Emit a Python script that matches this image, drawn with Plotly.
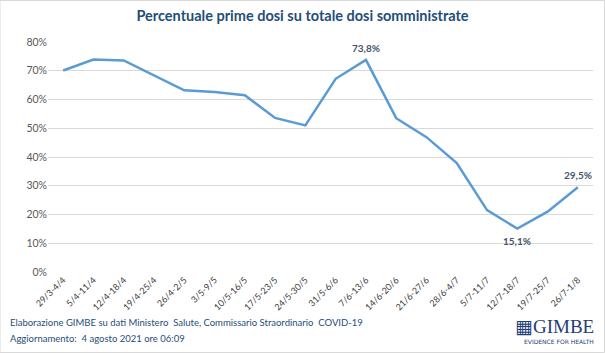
import plotly.graph_objects as go

categories = ["29/3-4/4", "5/4-11/4", "12/4-18/4", "19/4-25/4", "26/4-2/5", "3/5-9/5",
              "10/5-16/5", "17/5-23/5", "24/5-30/5", "31/5-6/6", "7/6-13/6", "14/6-20/6",
              "21/6-27/6", "28/6-4/7", "5/7-11/7", "12/7-18/7", "19/7-25/7", "26/7-1/8"]
values = [70.1, 73.9, 73.6, 68.4, 63.2, 62.6, 61.5, 53.6, 51.0, 67.2, 73.8, 53.5,
          46.9, 37.9, 21.5, 15.1, 21.0, 29.5]
labelled = {"7/6-13/6": ("73,8%", 12), "12/7-18/7": ("15,1%", -12), "26/7-1/8": ("29,5%", 12)}
yticks = [0, 10, 20, 30, 40, 50, 60, 70, 80]
ytick_text = ["0%", "10%", "20%", "30%", "40%", "50%", "60%", "70%", "80%"]

fig = go.Figure()
fig.add_trace(go.Scatter(x=categories, y=values, mode="lines",
                         line=dict(color="#5B9BD5", width=2.5), hoverinfo="skip"))

for cat, (txt, dy) in labelled.items():
    v = values[categories.index(cat)]
    fig.add_annotation(x=cat, y=v, text="<b>" + txt + "</b>", showarrow=False,
                       yshift=dy, font=dict(family="Lato, Open Sans", size=10, color="#44546A"))

fig.update_layout(
    width=605, height=353,
    margin=dict(l=48, r=12, t=42, b=81),
    paper_bgcolor="white", plot_bgcolor="white",
    showlegend=False,
    title=dict(text="<b>Percentuale prime dosi su totale dosi somministrate</b>",
               x=0.5, xanchor="center", y=0.955, yanchor="middle",
               font=dict(family="Lato, Open Sans", size=14.5, color="#1F4E79")),
    xaxis=dict(type="category", range=[-0.5, len(categories) - 0.5], tickangle=-45,
               showgrid=False, showline=False, ticks="",
               tickfont=dict(family="Lato, Open Sans", size=9, color="#404040")),
    yaxis=dict(range=[0, 80], tickvals=yticks, ticktext=ytick_text, showgrid=True,
               gridcolor="#D9D9D9", gridwidth=1, zeroline=False, showline=False,
               tickfont=dict(family="Lato, Open Sans", size=10.5, color="#595959")),
)

fig.add_annotation(xref="paper", yref="paper", x=0, y=0, xshift=-40, yshift=-50,
                   xanchor="left", yanchor="middle", showarrow=False,
                   text="Elaborazione GIMBE su dati Ministero  Salute, Commissario Straordinario  COVID-19",
                   font=dict(family="Lato, Open Sans", size=9.5, color="#1F4E79"))
fig.add_annotation(xref="paper", yref="paper", x=0, y=0, xshift=-40, yshift=-66,
                   xanchor="left", yanchor="middle", showarrow=False,
                   text="Aggiornamento:  4 agosto 2021 ore 06:09",
                   font=dict(family="Lato, Open Sans", size=9.5, color="#1F4E79"))
fig.add_annotation(xref="paper", yref="paper", x=1, y=0, xshift=3, yshift=-54,
                   xanchor="right", yanchor="middle", showarrow=False,
                   text="<span style='font-family:DejaVu Sans'>▦</span>GIMBE",
                   font=dict(family="Liberation Serif", size=19, color="#1F3E7A"))
fig.add_annotation(xref="paper", yref="paper", x=1, y=0, xshift=3, yshift=-69,
                   xanchor="right", yanchor="middle", showarrow=False,
                   text="EVIDENCE FOR HEALTH",
                   font=dict(family="DejaVu Sans", size=6, color="#1F3E7A"))

fig.add_shape(type="rect", xref="paper", yref="paper", x0=-48/545, x1=1+11.5/545,
              y0=-80.5/230, y1=1+41.5/230, line=dict(color="#D9D9D9", width=1))

fig.write_html("out.html")
